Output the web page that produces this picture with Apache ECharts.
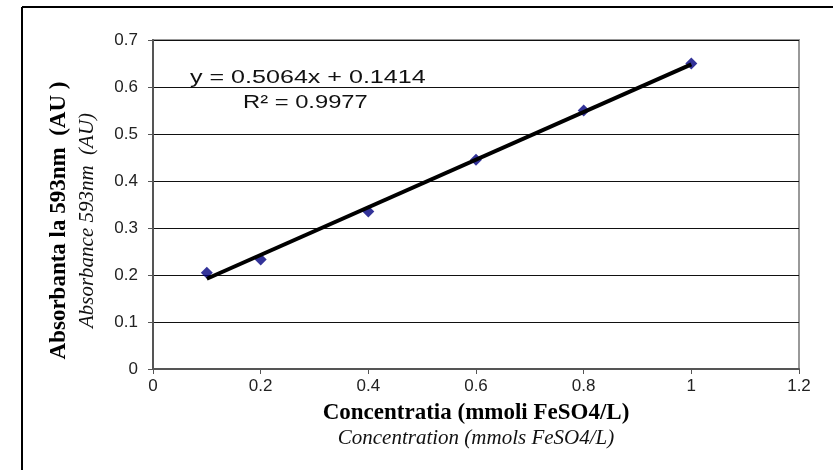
<!DOCTYPE html>
<html>
<head>
<meta charset="utf-8">
<script src="https://cdn.jsdelivr.net/npm/echarts@6/dist/echarts.min.js"></script>
<style>
  html, body { margin: 0; padding: 0; background: #fff; }
  #chart { width: 833px; height: 470px; }
</style>
</head>
<body>
<div id="chart"></div>
<script>
// concentration (mmol FeSO4/L) and measured absorbance at 593nm
const concentration = [0.1, 0.2, 0.4, 0.6, 0.8, 1.0]
const absorbance = [0.205, 0.233, 0.335, 0.445, 0.55, 0.65]
// linear trendline drawn between the first and last concentration
const trendX = [0.1, 1.0]
const trendY = [0.192, 0.648]
const equationText = 'y = 0.5064x + 0.1414'
const r2Text = 'R\u00b2 = 0.9977'

const sans = 'Liberation Sans, Arial, sans-serif'
const serif = 'Liberation Serif, Times New Roman, serif'

const chart = echarts.init(document.getElementById('chart'))

chart.setOption({
  animation: false,
  grid: {
    left: 153,
    right: 34,
    top: 40,
    bottom: 101,
    show: true,
    borderColor: '#999',
    borderWidth: 2
  },
  xAxis: {
    type: 'value',
    min: 0,
    max: 1.2,
    interval: 0.2,
    axisLine: { lineStyle: { color: '#555', width: 2 } },
    axisTick: { show: true, length: 5, lineStyle: { color: '#555' } },
    splitLine: { show: false },
    axisLabel: { color: '#222', fontSize: 17, fontFamily: sans, margin: 9 },
    name: '{b|Concentratia (mmoli FeSO4/L)}\n{i|Concentration (mmols FeSO4/L)}',
    nameLocation: 'middle',
    nameGap: 32,
    nameTextStyle: {
      rich: {
        b: { fontFamily: serif, fontWeight: 'bold', fontSize: 23, color: '#000', lineHeight: 25 },
        i: { fontFamily: serif, fontStyle: 'italic', fontSize: 21, color: '#111', lineHeight: 24 }
      }
    }
  },
  yAxis: {
    type: 'value',
    min: 0,
    max: 0.7,
    interval: 0.1,
    axisLine: { show: true, lineStyle: { color: '#555', width: 2 } },
    axisTick: { show: true, length: 5, lineStyle: { color: '#555' } },
    splitLine: { show: true, lineStyle: { color: '#111', width: 1 } },
    axisLabel: { color: '#222', fontSize: 17, fontFamily: sans, margin: 15 },
    name: '{b|Absorbanta la 593nm  (AU )}\n{i|Absorbance 593nm  (AU)}',
    nameLocation: 'middle',
    nameGap: 53,
    nameRotate: 90,
    nameTextStyle: {
      padding: [0, 32, 0, 0],
      rich: {
        b: { fontFamily: serif, fontWeight: 'bold', fontSize: 23, color: '#000', lineHeight: 31 },
        i: { fontFamily: serif, fontStyle: 'italic', fontSize: 21, color: '#111', lineHeight: 25 }
      }
    }
  },
  graphic: [
    { type: 'line', shape: { x1: 22, y1: 7, x2: 22, y2: 470 }, style: { stroke: '#000', lineWidth: 2 } },
    { type: 'line', shape: { x1: 22, y1: 7, x2: 833, y2: 7 }, style: { stroke: '#000', lineWidth: 2 } },
    { type: 'text', x: 190, y: 68, scaleX: 1.32, style: { text: equationText, font: '19px ' + sans, fill: '#111' } },
    { type: 'text', x: 243, y: 93, scaleX: 1.25, style: { text: r2Text, font: '19px ' + sans, fill: '#111' } }
  ],
  series: [
    {
      type: 'line',
      data: trendX.map((x, i) => [x, trendY[i]]),
      showSymbol: false,
      lineStyle: { color: '#000', width: 4 },
      z: 3
    },
    {
      type: 'scatter',
      data: concentration.map((x, i) => [x, absorbance[i]]),
      symbol: 'diamond',
      symbolSize: [12, 12],
      itemStyle: { color: '#000080' },
      z: 2
    }
  ]
})
</script>
</body>
</html>
